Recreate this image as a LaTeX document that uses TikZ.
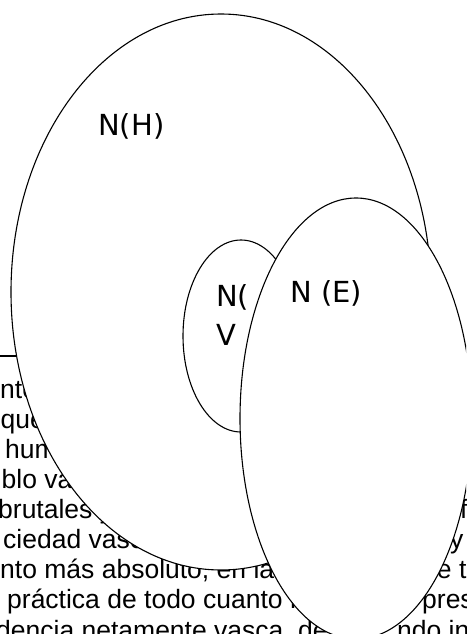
\documentclass[tikz,border=0pt]{standalone}
\usepackage{fontspec}
\setmainfont{Liberation Sans}
\newfontfamily\labelfont{DejaVu Sans}
\begin{document}
\begin{tikzpicture}[x=1pt,y=-1pt,
  bodytext/.style={anchor=base west, inner sep=0pt, font=\fontsize{26.5}{30}\selectfont},
  lab/.style={anchor=base west, inner sep=0pt, font=\labelfont\fontsize{29}{35}\selectfont},
  setshape/.style={draw=black, fill=white, line width=1.1pt},
  rule/.style={draw=black, line width=1.2pt}]
\useasboundingbox (0,0) rectangle (466,634);
\begin{scope}
\clip (0,0) rectangle (466,634);
% background paragraph fragments
\node[bodytext] (t1) at (0,398) {nte};
\node[bodytext] (t2) at (0.5,428) {que};
\node[bodytext] (t3) at (5,458) {hum};
\node[bodytext] (t4) at (1.5,488) {blo va};
\node[bodytext] (t5) at (-2,518) {brutales y};
\node[bodytext] (t6) at (3,548) {ciedad vasc};
\node[bodytext] (t7) at (0,578) {nto más absoluto, en la};
\node[bodytext] (t8) at (7,608) {práctica de todo cuanto n};
\node[bodytext] (t9) at (-4,639) {dencia netamente vasca, de};
\node[bodytext] (r5) at (460,518) {f};
\node[bodytext] (r6) at (450,548) {y};
\node[bodytext] (r7) at (422,578) {de t};
\node[bodytext] (r8) at (422,608) {pres};
\node[bodytext] (r9) at (397,639) {ndo in};
% horizontal rule
\coordinate (rl) at (0,356);
\coordinate (rr) at (120,356);
\draw[rule] (rl) -- (rr);
% sets
\draw[setshape] (221,292) ellipse [x radius=210, y radius=278];
\draw[setshape] (241,336) ellipse [x radius=58, y radius=96];
\node[lab] (nv1) at (216,306) {N(};
\node[lab] (nv2) at (216,345) {V};
\draw[setshape] (356,418.5) ellipse [x radius=116, y radius=220.5];
\end{scope}
\node[lab] (nh) at (98,135) {N(H)};
\node[lab] (ne) at (290,302) {N (E)};
\end{tikzpicture}
\end{document}
